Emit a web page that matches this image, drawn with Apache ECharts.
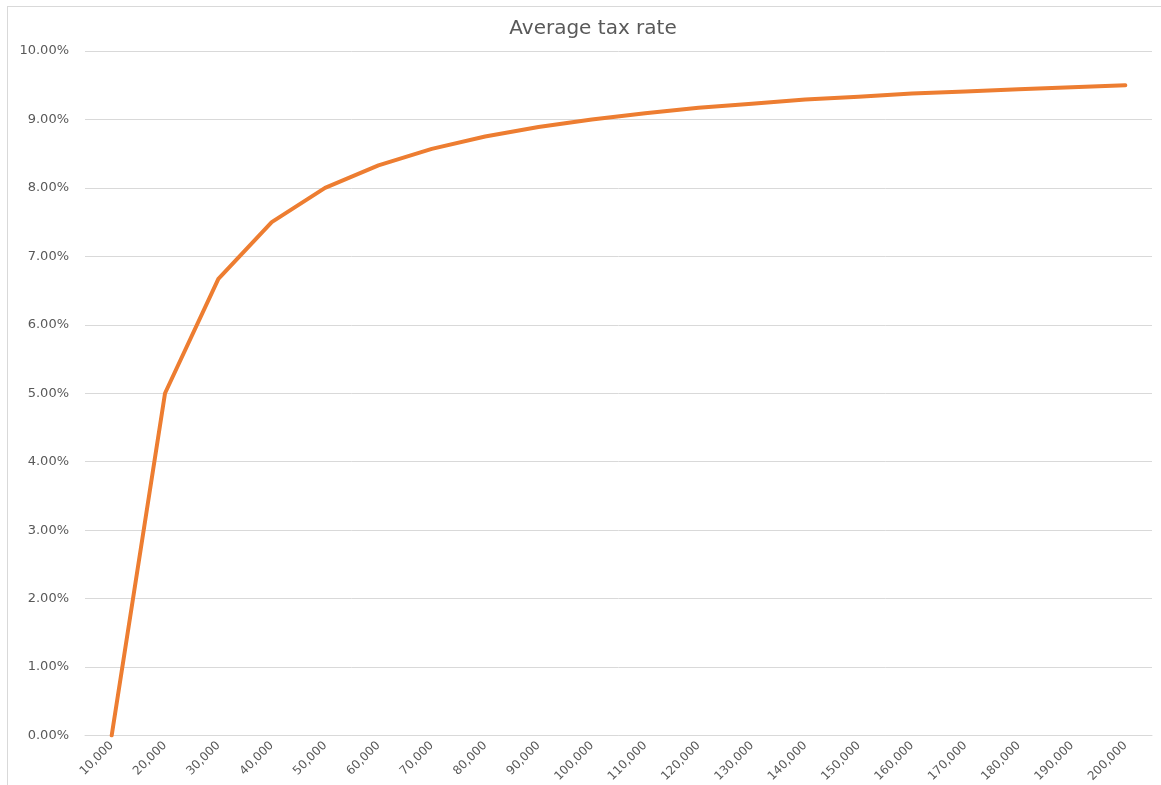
<!DOCTYPE html>
<html>
<head>
<meta charset="utf-8">
<title>Average tax rate</title>
<script src="https://cdn.jsdelivr.net/npm/echarts@6/dist/echarts.min.js"></script>
<style>
  html, body { margin: 0; padding: 0; background: #fff; overflow: hidden; width: 1161px; height: 785px; }
  #frame {
    position: absolute; left: 7px; top: 6px; right: 0; bottom: 0;
    border-left: 1px solid #d9d9d9; border-top: 1px solid #d9d9d9;
  }
  #chart { position: absolute; left: 0; top: 0; width: 1161px; height: 785px; }
</style>
</head>
<body>
<div id="frame"></div>
<div id="chart"></div>
<script>
// income levels and the average tax rate (in %)
const incomes = [10000, 20000, 30000, 40000, 50000, 60000, 70000, 80000, 90000, 100000,
                 110000, 120000, 130000, 140000, 150000, 160000, 170000, 180000, 190000, 200000];
const avgRate = [0.00, 5.00, 6.67, 7.50, 8.00, 8.33, 8.57, 8.75, 8.89, 9.00,
                 9.09, 9.17, 9.23, 9.29, 9.33, 9.38, 9.41, 9.44, 9.47, 9.50];

const fmtNum = v => Number(v).toLocaleString('en-US');

const myChart = echarts.init(document.getElementById('chart'));

const option = {
    animation: false,
    title: {
        text: 'Average tax rate',
        left: 588,
        top: 14,
        textAlign: 'center',
        textStyle: { fontFamily: 'DejaVu Sans', fontSize: 20, fontWeight: 'normal', color: '#595959' }
    },
    grid: { left: 85, right: 9, top: 51, bottom: 46, containLabel: false },
    xAxis: {
        type: 'category',
        data: incomes.map(fmtNum),
        boundaryGap: true,
        axisLine: { show: true, lineStyle: { color: '#d9d9d9', width: 1 } },
        axisTick: { show: false },
        axisLabel: {
            rotate: 45,
            interval: 0,
            margin: 8,
            color: '#595959',
            fontFamily: 'DejaVu Sans',
            fontSize: 12
        }
    },
    yAxis: {
        type: 'value',
        min: 0,
        max: 10,
        interval: 1,
        axisLine: { show: false },
        axisTick: { show: false },
        splitLine: { lineStyle: { color: '#d9d9d9', width: 1 } },
        axisLabel: {
            margin: 16,
            color: '#595959',
            fontFamily: 'DejaVu Sans',
            fontSize: 13,
            formatter: v => v.toFixed(2) + '%'
        }
    },
    series: [{
        type: 'line',
        data: avgRate,
        symbol: 'none',
        lineStyle: { color: '#ED7D31', width: 4, cap: 'round', join: 'round' }
    }]
};

myChart.setOption(option);
</script>
</body>
</html>
